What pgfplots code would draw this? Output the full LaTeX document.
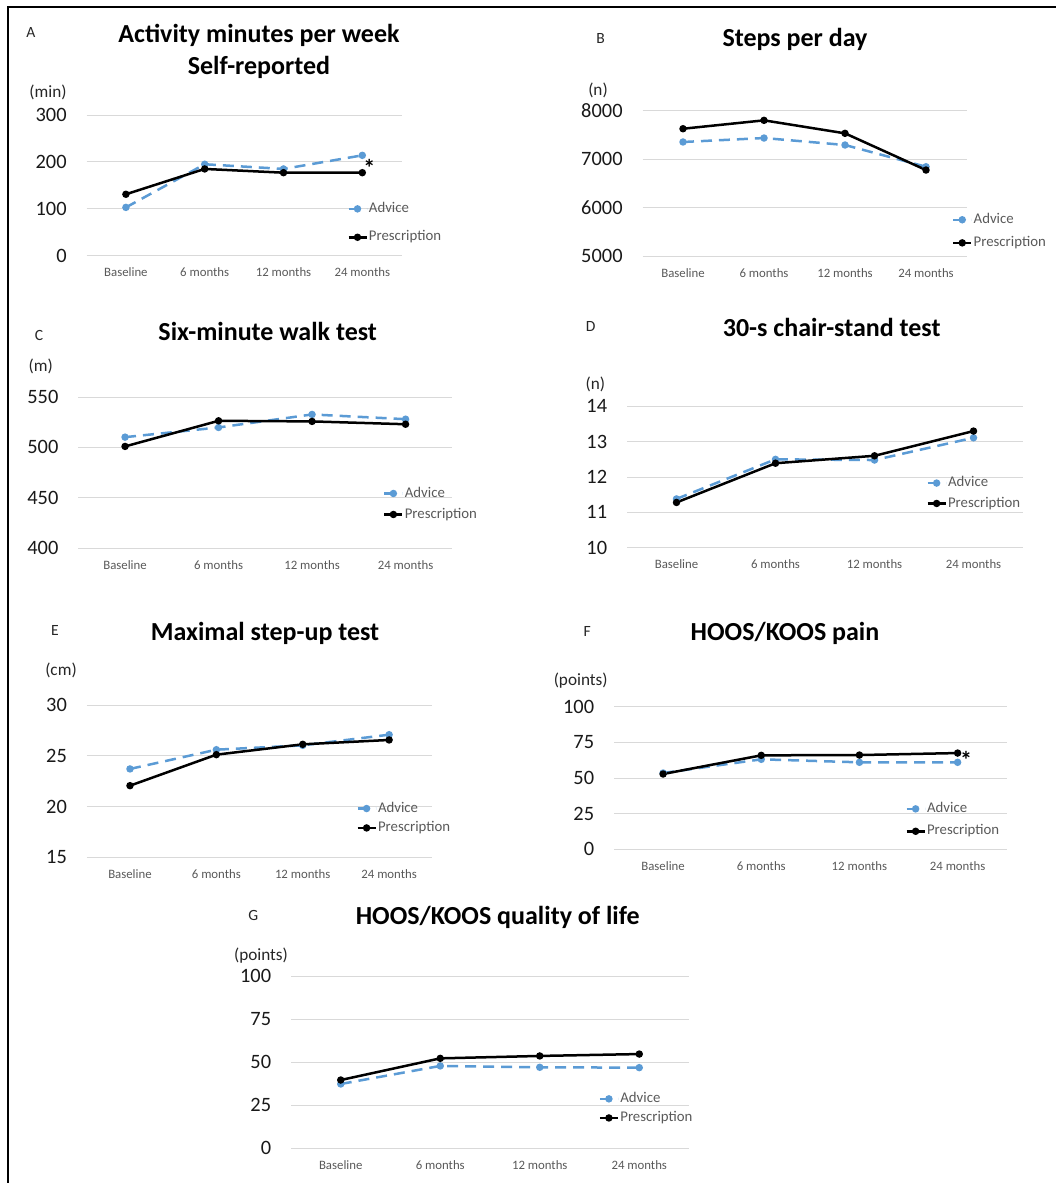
\documentclass[border=0pt]{standalone}
\usepackage{pgfplots}
\pgfplotsset{compat=1.18}
\usepackage{fontspec}
\setmainfont{Carlito}
\definecolor{advblue}{RGB}{91,155,213}
\definecolor{gridgray}{RGB}{217,217,217}
\definecolor{labgray}{RGB}{89,89,89}
\pgfplotsset{
 panel/.style={
  scale only axis, anchor=south west,
  xmin=-0.5, xmax=3.5, xtick={0,1,2,3},
  xticklabels={Baseline,6 months,12 months,24 months},
  ymajorgrids, major grid style={draw=gridgray, line width=0.5pt},
  axis line style={draw=none}, major tick length=0pt,
  tick label style={inner sep=0pt},
  xticklabel style={anchor=center, yshift=-8.3pt, font=\fontsize{6.4}{7}\selectfont, text=labgray},
  yticklabel style={anchor=east, xshift=-9.75pt, font=\fontsize{10.2}{12}\selectfont, text=black!90},
  /pgf/number format/assume math mode=true,
  /pgf/number format/1000 sep={},
  legend style={draw=none, fill=none, inner sep=0pt, anchor=west,
    font=\fontsize{7.4}{8}\selectfont, text=labgray,
    nodes={inner sep=0.6pt, text height=5.2pt, text depth=1.5pt}},
  legend cell align=left,
  legend image code/.code={\draw[mark repeat=2,mark phase=2,##1] plot coordinates {(0pt,0pt)(4.5pt,0pt)(9pt,0pt)};},
 },
 advice/.style={color=advblue, line width=1.25pt, dash pattern=on 5.5pt off 3.5pt, mark=*, mark size=1.2pt, mark options={solid}},
 presc/.style={color=black, line width=1.25pt, mark=*, mark size=1.2pt},
}
\tikzset{
 ttl/.style={font=\fontsize{13}{15}\bfseries, inner sep=0pt, text height=8.4pt, text depth=0pt},
 let/.style={font=\fontsize{7.8}{9}\selectfont, inner sep=0pt, text height=5pt, text depth=0pt, text=black!85},
 unit/.style={font=\fontsize{8.6}{10}\selectfont, inner sep=0pt, text=black!85},
 star/.style={font=\fontsize{12}{14}\bfseries, inner sep=0pt},
}
\begin{document}
\begin{tikzpicture}
% frame
\draw[line width=1pt] (3.85pt,-591.5pt) -- (3.85pt,-3.35pt) -- (528pt,-3.35pt);

% Panel A
\begin{axis}[panel, at={(43.25pt,-127.85pt)}, width=157.6pt, height=70.35pt,
  ymin=0, ymax=300, ytick={0,100,200,300},
  legend style={at={(0.826,0.232)}, row sep=6.3pt}]
\addplot[advice] coordinates {(0,103)(1,195)(2,185)(3,214)};
\addplot[presc] coordinates {(0,131)(1,185)(2,177)(3,177)};
\legend{Advice,Prescription}
\node[star] at (axis cs:3,177) [xshift=3.5pt, yshift=2.3pt] {*};
\end{axis}

% Panel B
\begin{axis}[panel, at={(321.25pt,-128.15pt)}, width=162pt, height=72.65pt,
  ymin=5000, ymax=8000, ytick={5000,6000,7000,8000},
  legend style={at={(0.954,0.172)}, row sep=3.65pt}]
\addplot[advice] coordinates {(0,7360)(1,7442)(2,7298)(3,6849)};
\addplot[presc] coordinates {(0,7634)(1,7807)(2,7539)(3,6781)};
\legend{Advice,Prescription}
\end{axis}

% Panel C
\begin{axis}[panel, at={(39.15pt,-274.15pt)}, width=187pt, height=75.65pt,
  ymin=400, ymax=550, ytick={400,450,500,550},
  legend style={at={(0.814,0.293)}, row sep=2.6pt}]
\addplot[advice] coordinates {(0,510.2)(1,519.8)(2,532.7)(3,528)};
\addplot[presc] coordinates {(0,501)(1,526.4)(2,525.8)(3,523)};
\legend{Advice,Prescription}
\end{axis}

% Panel D
\begin{axis}[panel, at={(313.5pt,-273.85pt)}, width=198pt, height=70.7pt,
  ymin=10, ymax=14, ytick={10,11,12,13,14},
  legend style={at={(0.755,0.385)}, row sep=2.3pt}]
\addplot[advice] coordinates {(0,11.38)(1,12.5)(2,12.48)(3,13.11)};
\addplot[presc] coordinates {(0,11.28)(1,12.39)(2,12.6)(3,13.3)};
\legend{Advice,Prescription}
\end{axis}

% Panel E
\begin{axis}[panel, at={(43.4pt,-428.65pt)}, width=172.75pt, height=76pt,
  ymin=15, ymax=30, ytick={15,20,25,30},
  legend style={at={(0.779,0.257)}, row sep=1.8pt}]
\addplot[advice] coordinates {(0,23.72)(1,25.62)(2,26.05)(3,27.1)};
\addplot[presc] coordinates {(0,22.07)(1,25.13)(2,26.15)(3,26.58)};
\legend{Advice,Prescription}
\end{axis}

% Panel F
\begin{axis}[panel, at={(307pt,-424.65pt)}, width=196.35pt, height=71.3pt,
  ymin=0, ymax=100, ytick={0,25,50,75,100},
  legend style={at={(0.741,0.205)}, row sep=3.3pt}]
\addplot[advice] coordinates {(0,53.5)(1,63.1)(2,61)(3,61)};
\addplot[presc] coordinates {(0,52.8)(1,65.9)(2,66.1)(3,67.5)};
\legend{Advice,Prescription}
\node[star] at (axis cs:3,67.5) [xshift=4.3pt, yshift=-3.2pt] {*};
\end{axis}

% Panel G
\begin{axis}[panel, at={(145.5pt,-574.15pt)}, width=199pt, height=86pt,
  ymin=0, ymax=100, ytick={0,25,50,75,100},
  legend style={at={(0.772,0.232)}, row sep=1.65pt}]
\addplot[advice] coordinates {(0,37.4)(1,47.9)(2,47.1)(3,46.9)};
\addplot[presc] coordinates {(0,39.7)(1,52.3)(2,53.7)(3,54.8)};
\legend{Advice,Prescription}
\end{axis}

% Titles
\node[ttl] at (129.5pt,-17pt) {Activity minutes per week};
\node[ttl] at (129.5pt,-32.85pt) {Self-reported};
\node[ttl] at (397.5pt,-19pt) {Steps per day};
\node[ttl] at (133.85pt,-166pt) {Six-minute walk test};
\node[ttl] at (415.85pt,-164.15pt) {30-s chair-stand test};
\node[ttl] at (132.5pt,-315.85pt) {Maximal step-up test};
\node[ttl] at (392.5pt,-315.85pt) {HOOS/KOOS pain};
\node[ttl] at (248.85pt,-458pt) {HOOS/KOOS quality of life};

% Panel letters
\node[let] at (15.5pt,-16pt) {A};
\node[let] at (300.35pt,-19pt) {B};
\node[let] at (19.5pt,-167.85pt) {C};
\node[let] at (295.35pt,-163.35pt) {D};
\node[let] at (27.5pt,-315pt) {E};
\node[let] at (293.65pt,-315.85pt) {F};
\node[let] at (126.65pt,-457.5pt) {G};

% Units
\node[unit] at (24pt,-46pt) {(min)};
\node[unit] at (299pt,-45pt) {(n)};
\node[unit] at (20.35pt,-183.35pt) {(m)};
\node[unit] at (297.65pt,-192pt) {(n)};
\node[unit] at (30.5pt,-335.35pt) {(cm)};
\node[unit] at (290.35pt,-340.35pt) {(points)};
\node[unit] at (130.5pt,-477.85pt) {(points)};

\pgfresetboundingbox
\path[use as bounding box] (0pt,0pt) rectangle (528pt,-591.5pt);
\end{tikzpicture}
\end{document}
